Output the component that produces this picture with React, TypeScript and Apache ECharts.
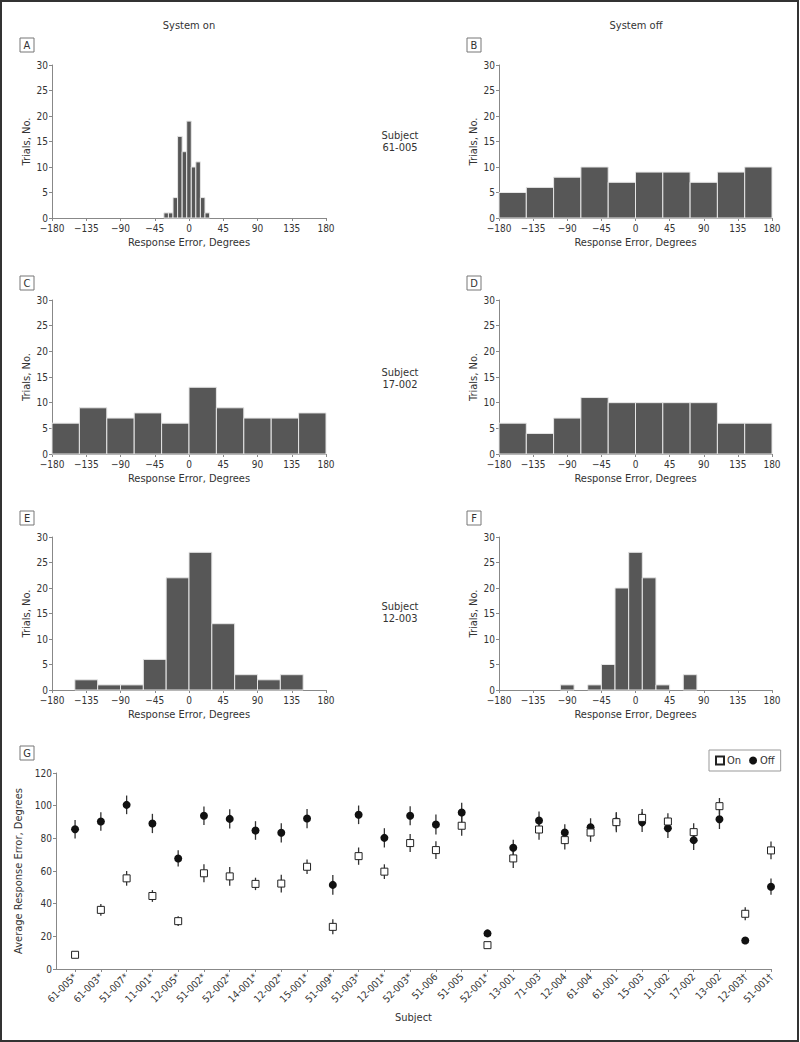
import React, { useEffect, useRef } from "react";
import * as echarts from "echarts";

const FONT = "'Liberation Sans Narrow','DejaVu Sans Condensed','Roboto Condensed',sans-serif";
const TXT = "#333";
const AX = "#888";

// Histogram tick labels
const histTicks = [-180, -135, -90, -45, 0, 45, 90, 135, 180];

// Panel A: Subject 61-005, system on
const widthA = 6;
const lowA = [-33, -27, -21, -15, -9, -3, 3, 9, 15, 21];
const countsA = [1, 1, 4, 16, 13, 19, 10, 11, 4, 1];
// Panel B: Subject 61-005, system off
const widthB = 36;
const lowB = [-180, -144, -108, -72, -36, 0, 36, 72, 108, 144];
const countsB = [5, 6, 8, 10, 7, 9, 9, 7, 9, 10];
// Panel C: Subject 17-002, system on
const widthC = 36;
const lowC = [-180, -144, -108, -72, -36, 0, 36, 72, 108, 144];
const countsC = [6, 9, 7, 8, 6, 13, 9, 7, 7, 8];
// Panel D: Subject 17-002, system off
const widthD = 36;
const lowD = [-180, -144, -108, -72, -36, 0, 36, 72, 108, 144];
const countsD = [6, 4, 7, 11, 10, 10, 10, 10, 6, 6];
// Panel E: Subject 12-003, system on
const widthE = 30;
const lowE = [-150, -120, -90, -60, -30, 0, 30, 60, 90, 120];
const countsE = [2, 1, 1, 6, 22, 27, 13, 3, 2, 3];
// Panel F: Subject 12-003, system off
const widthF = 18;
const lowF = [-99, -63, -45, -27, -9, 9, 27, 63];
const countsF = [1, 1, 5, 20, 27, 22, 1, 3];

// Panel G
const subjects = [
  "61-005*", "61-003*", "51-007*", "11-001*", "12-005*", "51-002*", "52-002*", "14-001*",
  "12-002*", "15-001*", "51-009*", "51-003*", "12-001*", "52-003*", "51-006", "51-005",
  "52-001*", "13-001", "71-003", "12-004", "61-004", "61-001", "15-003", "11-002",
  "17-002", "13-002", "12-003\u2020", "51-001\u2020",
];
const onMean = [8.7, 36.2, 55.5, 44.7, 29.3, 58.6, 56.7, 52.1, 52.3, 62.6, 25.8, 69.1, 59.6, 77.1, 72.8, 87.7, 14.6, 67.7, 85.4, 78.9, 83.6, 89.9, 92.5, 90.3, 83.8, 99.7, 33.8, 72.6];
const onErr = [1, 3.6, 4.5, 3.6, 3, 5.5, 5.8, 3.8, 5.4, 4.4, 4.6, 5.3, 4.5, 5.5, 5.4, 6.1, 1, 5.9, 6.2, 5.7, 5.7, 6.1, 5.5, 5, 5.5, 5, 4, 5.4];
const offMean = [85.6, 90.3, 100.5, 89.1, 67.7, 93.8, 91.9, 84.8, 83.4, 92.1, 51.5, 94.4, 80.3, 93.8, 88.5, 95.8, 21.8, 74.2, 90.9, 83.6, 86.8, 90.3, 89.9, 86.2, 78.9, 91.7, 17.5, 50.4];
const offErr = [5.7, 5.7, 5.7, 5.9, 5, 5.7, 5.9, 5.7, 5.9, 5.9, 6.1, 5.7, 5.9, 5.8, 6.1, 6, 2.1, 4.9, 5.6, 5, 5.5, 5.5, 6, 6, 6, 6, 0, 5];
const gTicks = [0, 20, 40, 60, 80, 100, 120];

const fmtDeg = (v: number) => (v < 0 ? "\u2212" + Math.abs(v) : String(v));

export default function App() {
  const ref = useRef<HTMLDivElement>(null);
  useEffect(() => {
    document.body.style.margin = "0";
    const chart = echarts.init(ref.current!, null, { renderer: "svg" });

    const hists = [
      { low: lowA, w: widthA, c: countsA },
      { low: lowB, w: widthB, c: countsB },
      { low: lowC, w: widthC, c: countsC },
      { low: lowD, w: widthD, c: countsD },
      { low: lowE, w: widthE, c: countsE },
      { low: lowF, w: widthF, c: countsF },
    ];
    const gridPos = [
      { left: 52, top: 65, width: 274, height: 153 },
      { left: 499, top: 65, width: 273, height: 153 },
      { left: 52, top: 300, width: 274, height: 154 },
      { left: 499, top: 300, width: 273, height: 154 },
      { left: 52, top: 537, width: 274, height: 153 },
      { left: 499, top: 537, width: 273, height: 153 },
      { left: 56, top: 773, width: 715, height: 196 },
    ];
    const axisLine = { show: true, onZero: false, lineStyle: { color: AX, width: 1 } };
    const axisTick = { show: true, length: 3, lineStyle: { color: AX } };
    const labelStyle = { color: TXT, fontFamily: FONT, fontSize: 10 };
    const nameStyle = { color: TXT, fontFamily: FONT, fontSize: 11 };

    const xAxes: any[] = hists.map((_, i) => ({
      type: "value", gridIndex: i, min: -180, max: 180, interval: 45,
      axisLine, axisTick, splitLine: { show: false },
      axisLabel: { ...labelStyle, margin: 5, formatter: fmtDeg, customValues: histTicks },
      name: "Response Error, Degrees", nameLocation: "middle", nameGap: 19, nameTextStyle: nameStyle,
    }));
    const yAxes: any[] = hists.map((_, i) => ({
      type: "value", gridIndex: i, min: 0, max: 30, interval: 5,
      axisLine, axisTick, splitLine: { show: false },
      axisLabel: { ...labelStyle, margin: 4 },
      name: "Trials, No.", nameLocation: "middle", nameGap: 20, nameTextStyle: nameStyle,
    }));
    const idx = subjects.map((_, i) => i);
    xAxes.push({
      type: "value", gridIndex: 6, min: -0.74, max: 27,
      axisLine, splitLine: { show: false },
      axisTick: { ...axisTick, customValues: idx },
      axisLabel: {
        ...labelStyle, fontSize: 10, margin: 6, rotate: 45, customValues: idx,
        formatter: (v: number) => subjects[Math.round(v)] ?? "",
      },
      name: "Subject", nameLocation: "middle", nameGap: 43, nameTextStyle: nameStyle,
    });
    yAxes.push({
      type: "value", gridIndex: 6, min: 0, max: 120, interval: 20,
      axisLine, axisTick, splitLine: { show: false },
      axisLabel: { ...labelStyle, margin: 4, customValues: gTicks },
      name: "Average Response Error, Degrees", nameLocation: "middle", nameGap: 25, nameTextStyle: nameStyle,
    });

    const histSeries = hists.map((h, i) => ({
      type: "custom", xAxisIndex: i, yAxisIndex: i, silent: true,
      data: h.low.map((lo, k) => [lo, lo + h.w, h.c[k]]),
      encode: { x: [0, 1], y: 2 },
      renderItem: (params: any, api: any) => {
        const p0 = api.coord([api.value(0), api.value(2)]);
        const p1 = api.coord([api.value(1), 0]);
        return {
          type: "rect",
          shape: { x: p0[0], y: p0[1], width: p1[0] - p0[0], height: p1[1] - p0[1] },
          style: { fill: "#575757", stroke: "#e6e6e6", lineWidth: 1 },
        };
      },
    }));

    const errSeries = (name: string, mean: number[], err: number[]) => ({
      type: "custom", name, xAxisIndex: 6, yAxisIndex: 6, silent: true, z: 1,
      data: mean.map((m, i) => [i, m, err[i]]),
      encode: { x: 0, y: 1 },
      renderItem: (params: any, api: any) => {
        const x = api.value(0), v = api.value(1), e = api.value(2);
        const a = api.coord([x, v - e]);
        const b = api.coord([x, v + e]);
        return {
          type: "line",
          shape: { x1: a[0], y1: a[1], x2: b[0], y2: b[1] },
          style: { stroke: "#333", lineWidth: 1.3 },
        };
      },
    });

    const labelBox = (t: string, x: number, y: number) => ({
      type: "group", x, y,
      children: [
        { type: "rect", shape: { x: 0, y: 0, width: 14, height: 14 }, style: { fill: "#fff", stroke: "#777", lineWidth: 1 } },
        { type: "text", x: 7, y: 7.5, style: { text: t, fill: TXT, font: `11px ${FONT}`, align: "center", verticalAlign: "middle" } },
      ],
    });
    const centerText = (t: string, x: number, y: number) => ({
      type: "text", x, y,
      style: { text: t, fill: TXT, font: `11px ${FONT}`, align: "center", verticalAlign: "middle", lineHeight: 12 },
    });

    chart.setOption({
      animation: false,
      backgroundColor: "#fff",
      grid: gridPos.map((g) => ({ ...g, containLabel: false })),
      xAxis: xAxes,
      yAxis: yAxes,
      legend: {
        data: ["On", "Off"], left: 709, top: 750, orient: "horizontal",
        borderColor: "#999", borderWidth: 1, padding: [5, 6, 5, 6],
        itemWidth: 8, itemHeight: 8, itemGap: 8, selectedMode: false,
        textStyle: { color: TXT, fontFamily: FONT, fontSize: 11, padding: [0, 0, 0, -2] },
      },
      series: [
        ...histSeries,
        errSeries("offErr", offMean, offErr),
        errSeries("onErr", onMean, onErr),
        {
          type: "scatter", name: "Off", xAxisIndex: 6, yAxisIndex: 6, z: 2,
          symbol: "circle", symbolSize: 8,
          itemStyle: { color: "#111", opacity: 1 },
          data: offMean.map((m, i) => [i, m]),
        },
        {
          type: "scatter", name: "On", xAxisIndex: 6, yAxisIndex: 6, z: 3,
          symbol: "rect", symbolSize: 7,
          itemStyle: { color: "#fff", borderColor: "#222", borderWidth: 1, opacity: 1 },
          data: onMean.map((m, i) => [i, m]),
        },
      ],
      graphic: [
        { type: "rect", shape: { x: 1, y: 1, width: 797, height: 1040 }, style: { fill: "none", stroke: "#333", lineWidth: 2 }, silent: true },
        centerText("System on", 189, 25),
        centerText("System off", 636, 25),
        centerText("Subject\n61-005", 400, 141),
        centerText("Subject\n17-002", 400, 378),
        centerText("Subject\n12-003", 400, 612),
        labelBox("A", 20, 38),
        labelBox("B", 467, 38),
        labelBox("C", 20, 276),
        labelBox("D", 467, 276),
        labelBox("E", 20, 511),
        labelBox("F", 467, 511),
        labelBox("G", 20, 746),
      ],
    });
    return () => chart.dispose();
  }, []);
  return <div ref={ref} style={{ width: 800, height: 1042 }} />;
}
